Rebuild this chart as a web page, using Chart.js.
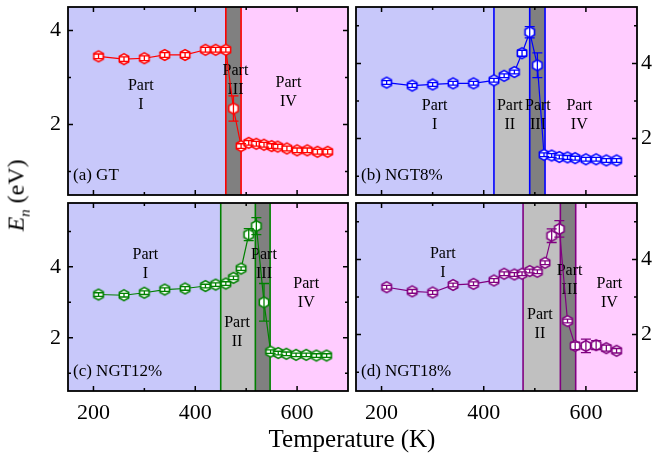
<!DOCTYPE html>
<html>
<head>
<meta charset="utf-8">
<script src="https://cdn.jsdelivr.net/npm/chart.js@4.4.1/dist/chart.umd.min.js"></script>
<style>
  body { margin:0; background:#fff; }
  #wrap { position:relative; width:657px; height:457px; overflow:hidden; font-family:"Liberation Serif","Times New Roman",serif; }
  #wrap canvas { position:absolute; left:0; top:0; }
  .lbl { position:absolute; color:#000; white-space:nowrap; }
</style>
</head>
<body>
<div id="wrap">
  <canvas id="pa" width="657" height="457"></canvas>
  <canvas id="pb" width="657" height="457"></canvas>
  <canvas id="pc" width="657" height="457"></canvas>
  <canvas id="pd" width="657" height="457"></canvas>
  <div class="lbl" id="xtitle" style="left:0;width:704px;top:425px;text-align:center;font-size:25px;">Temperature (K)</div>
  <div class="lbl" id="ytitle" style="left:-32px;top:180px;width:100px;text-align:center;font-size:24px;transform:rotate(-90deg);"><i>E</i><sub style="font-size:15px"><i>n</i></sub> (eV)</div>
</div>
<script>
// temperatures (K)
var tempA = [210,260,300,340,380,420,440,460,475,490,505,520,535,550,562,580,600,620,640,660];
var tempB = [210,260,300,340,380,420,440,460,475,490,505,518,533,548,564,579,600,620,640,660];
var tempC = [210,260,300,340,380,420,440,460,475,490,505,520,535,548,563,579,598,618,638,658];
var tempD = [210,260,300,340,380,420,440,460,475,490,505,520,533,548,564,579,600,620,640,660];

// E_n (eV)
var enGT    = [3.45,3.39,3.41,3.48,3.48,3.59,3.59,3.59,2.34,1.54,1.61,1.59,1.57,1.54,1.53,1.49,1.45,1.45,1.42,1.42];
var enNGT8  = [3.49,3.41,3.44,3.47,3.47,3.55,3.67,3.77,4.27,4.83,3.95,1.57,1.55,1.51,1.50,1.48,1.45,1.45,1.42,1.42];
var enNGT12 = [3.22,3.20,3.27,3.36,3.39,3.46,3.50,3.53,3.69,3.95,4.91,5.15,3.00,1.61,1.57,1.55,1.52,1.52,1.50,1.50];
var enNGT18 = [3.26,3.15,3.12,3.32,3.35,3.44,3.62,3.60,3.62,3.69,3.67,3.91,4.63,4.81,2.36,1.70,1.70,1.72,1.64,1.57];

// error bars (eV)
var errGT    = [0.05,0.05,0.05,0.05,0.05,0.05,0.05,0.05,0.27,0.05,0.05,0.05,0.05,0.05,0.05,0.05,0.05,0.05,0.05,0.05];
var errNGT8  = [0.05,0.05,0.05,0.05,0.05,0.05,0.05,0.05,0.08,0.15,0.33,0.05,0.05,0.05,0.05,0.05,0.05,0.05,0.05,0.05];
var errNGT12 = [0.05,0.05,0.05,0.05,0.05,0.05,0.05,0.05,0.05,0.05,0.17,0.24,0.53,0.05,0.05,0.05,0.05,0.05,0.05,0.05];
var errNGT18 = [0.05,0.05,0.05,0.05,0.05,0.05,0.05,0.05,0.05,0.05,0.05,0.05,0.18,0.22,0.05,0.10,0.18,0.12,0.08,0.06];

// region boundaries (K): [start,end,kind]
var regionsA = [[150,460,'I'],[460,490,'III'],[490,700,'IV']];
var regionsB = [[150,420,'I'],[420,490,'II'],[490,520,'III'],[520,700,'IV']];
var regionsC = [[150,450,'I'],[450,518,'II'],[518,547,'III'],[547,700,'IV']];
var regionsD = [[150,477,'I'],[477,550,'II'],[550,580,'III'],[580,700,'IV']];

// part labels: [x (K), y (eV), numeral]
var partsA = [[293,2.82,'I'],[479,3.14,'III'],[583,2.88,'IV']];
var partsB = [[304,2.86,'I'],[451,2.86,'II'],[506,2.86,'III'],[587,2.86,'IV']];
var partsC = [[302,4.35,'I'],[482,2.41,'II'],[535,4.33,'III'],[618,3.51,'IV']];
var partsD = [[320,4.15,'I'],[510,2.52,'II'],[568,3.69,'III'],[646,3.35,'IV']];

var xTicks = [200,300,400,500,600];
var yTicks = [1,2,3,4,5];

var FONT = '"Liberation Serif","Times New Roman",serif';
var regionColor = { I:'#c8c8fa', II:'#c0c0c0', III:'#808080', IV:'#ffccff' };

function hexMarker(color) {
  var c = document.createElement('canvas');
  c.width = 14; c.height = 14;
  var g = c.getContext('2d');
  g.beginPath();
  for (var i = 0; i < 6; i++) {
    var a = -Math.PI/2 + i*Math.PI/3;
    var px = 7 + 5.4*Math.cos(a), py = 7 + 5.4*Math.sin(a);
    if (i == 0) g.moveTo(px, py); else g.lineTo(px, py);
  }
  g.closePath();
  g.fillStyle = '#fff';
  g.fill();
  g.lineWidth = 1.6;
  g.strokeStyle = color;
  g.stroke();
  return c;
}

var panelPlugin = {
  id: 'panel',
  beforeDatasetsDraw: function(chart) {
    var ctx = chart.ctx, a = chart.chartArea, p = chart.options.plugins.panel;
    var xs = chart.scales.x, ys = chart.scales.y;
    ctx.save();
    p.regions.forEach(function(r) {
      var x0 = xs.getPixelForValue(r[0]), x1 = xs.getPixelForValue(r[1]);
      ctx.fillStyle = regionColor[r[2]];
      ctx.fillRect(x0, a.top, x1 - x0, a.bottom - a.top);
    });
    // coloured border lines
    ctx.strokeStyle = p.color;
    ctx.lineWidth = 1.6;
    p.regions.forEach(function(r, i) {
      if (i == 0) return;
      var x0 = xs.getPixelForValue(r[0]);
      ctx.beginPath(); ctx.moveTo(x0, a.top); ctx.lineTo(x0, a.bottom); ctx.stroke();
    });
    // part labels
    ctx.fillStyle = '#000';
    ctx.font = '16px ' + FONT;
    ctx.textAlign = 'center';
    ctx.textBaseline = 'middle';
    p.parts.forEach(function(t) {
      var px = xs.getPixelForValue(t[0]), py = ys.getPixelForValue(t[1]);
      ctx.fillText('Part', px, py);
      ctx.fillText(t[2], px, py + 19);
    });
    // panel tag
    ctx.font = '17px ' + FONT;
    ctx.textAlign = 'left';
    ctx.fillText(p.tag, a.left + 5, a.bottom - 19);
    ctx.restore();
  },
  afterDatasetsDraw: function(chart) {
    var ctx = chart.ctx, ys = chart.scales.y;
    ctx.save();
    chart.data.datasets.forEach(function(ds, di) {
      var meta = chart.getDatasetMeta(di);
      ctx.strokeStyle = ds.borderColor;
      ctx.lineWidth = 1.3;
      meta.data.forEach(function(pt, i) {
        var e = ds.err[i], v = ds.data[i].y;
        var yt = ys.getPixelForValue(v + e), yb = ys.getPixelForValue(v - e);
        ctx.beginPath();
        ctx.moveTo(pt.x, yt); ctx.lineTo(pt.x, yb);
        ctx.moveTo(pt.x - 5, yt); ctx.lineTo(pt.x + 5, yt);
        ctx.moveTo(pt.x - 5, yb); ctx.lineTo(pt.x + 5, yb);
        ctx.stroke();
      });
    });
    ctx.restore();
  },
  afterDraw: function(chart) {
    var ctx = chart.ctx, a = chart.chartArea, xs = chart.scales.x, ys = chart.scales.y;
    ctx.save();
    ctx.strokeStyle = '#000';
    ctx.lineWidth = 1.5;
    ctx.beginPath();
    xTicks.forEach(function(v) {
      var px = xs.getPixelForValue(v), len = (v % 200 == 0) ? 5 : 3;
      ctx.moveTo(px, a.top); ctx.lineTo(px, a.top + len);
      ctx.moveTo(px, a.bottom); ctx.lineTo(px, a.bottom - len);
    });
    yTicks.forEach(function(v) {
      if (v < ys.min || v > ys.max) return;
      var py = ys.getPixelForValue(v), len = (v % 2 == 0) ? 5 : 3;
      ctx.moveTo(a.left, py); ctx.lineTo(a.left + len, py);
      ctx.moveTo(a.right, py); ctx.lineTo(a.right - len, py);
    });
    ctx.stroke();
    ctx.lineWidth = 1.8;
    ctx.strokeRect(a.left, a.top, a.right - a.left, a.bottom - a.top);
    ctx.restore();
  }
};

function noPad(s) {
  s.paddingTop = 0; s.paddingBottom = 0; s.paddingLeft = 0; s.paddingRight = 0;
}

function makePanel(id, temps, values, errs, color, yMax, regions, parts, tag, pos) {
  var points = temps.map(function(t, i) { return { x: t, y: values[i] }; });
  var left = pos.col == 0;
  var bottom = pos.row == 1;
  return new Chart(document.getElementById(id), {
    type: 'line',
    data: {
      datasets: [{
        data: points,
        err: errs,
        borderColor: color,
        borderWidth: 1.2,
        pointStyle: hexMarker(color),
        pointRadius: 5,
        tension: 0
      }]
    },
    options: {
      responsive: false,
      animation: false,
      devicePixelRatio: 1,
      layout: { padding: pos.pad },
      plugins: {
        legend: { display: false },
        tooltip: { enabled: false },
        panel: { regions: regions, parts: parts, tag: tag, color: color }
      },
      scales: {
        x: {
          type: 'linear', min: 150, max: 700,
          display: bottom,
          grid: { display: false, drawTicks: false },
          border: { display: false },
          afterBuildTicks: function(s) { s.ticks = xTicks.map(function(v) { return { value: v }; }); },
          afterFit: function(s) { s.height = bottom ? 40 : 0; noPad(s); },
          ticks: {
            autoSkip: false, maxRotation: 0, padding: 9,
            color: '#000', font: { family: FONT, size: 22 },
            callback: function(v) { return v % 200 == 0 ? v : ''; }
          }
        },
        y: {
          type: 'linear', min: 0.5, max: yMax,
          position: left ? 'left' : 'right',
          grid: { display: false, drawTicks: false },
          border: { display: false },
          afterBuildTicks: function(s) {
            s.ticks = yTicks.filter(function(v) { return v <= yMax; }).map(function(v) { return { value: v }; });
          },
          afterFit: function(s) { s.width = left ? 40 : 20; noPad(s); },
          ticks: {
            autoSkip: false, padding: left ? 7 : 4,
            color: '#000', font: { family: FONT, size: 22 },
            callback: function(v) { return v % 2 == 0 ? v : ''; }
          }
        }
      }
    },
    plugins: [panelPlugin]
  });
}

makePanel('pa', tempA, enGT, errGT, '#ff0000', 4.5, regionsA, partsA, '(a) GT',
  { col: 0, row: 0, pad: { left: 28, right: 309, top: 7, bottom: 262 } });
makePanel('pb', tempB, enNGT8, errNGT8, '#0000ff', 5.5, regionsB, partsB, '(b) NGT8%',
  { col: 1, row: 0, pad: { left: 356, right: 0, top: 7, bottom: 262 } });
makePanel('pc', tempC, enNGT12, errNGT12, '#008000', 5.8, regionsC, partsC, '(c) NGT12%',
  { col: 0, row: 1, pad: { left: 28, right: 309, top: 203, bottom: 26 } });
makePanel('pd', tempD, enNGT18, errNGT18, '#800080', 5.5, regionsD, partsD, '(d) NGT18%',
  { col: 1, row: 1, pad: { left: 356, right: 0, top: 203, bottom: 26 } });
</script>
</body>
</html>
